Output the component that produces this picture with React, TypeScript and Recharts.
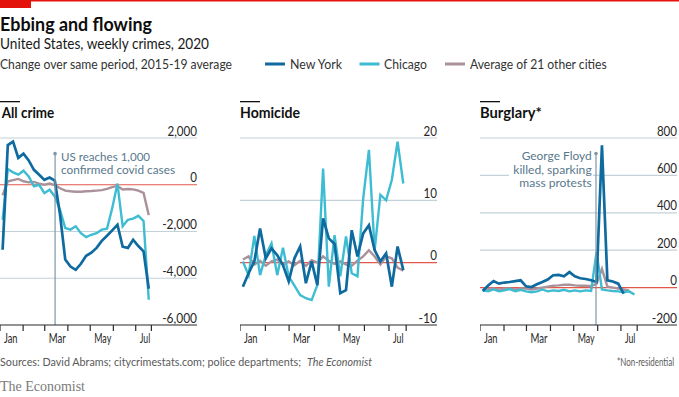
import React from 'react';
import { LineChart, Line, XAxis, YAxis, ReferenceLine } from 'recharts';

// ---------- data ----------
const weekNumbers = [1, 2, 3, 4, 5, 6, 7, 8, 9, 10, 11, 12, 13, 14, 15, 16, 17, 18, 19, 20, 21, 22, 23, 24, 25, 26, 27, 28, 29];
const monthStartDays = [0, 31, 60, 91, 121, 152, 182, 203];
const monthLabels = ['Jan', '', 'Mar', '', 'May', '', 'Jul', ''];

const allCrimeNY = [-2780, 1700, 1850, 1150, 1330, 1040, 640, 430, 210, 310, 180, -1280, -3200, -3500, -3640, -3380, -3040, -2910, -2700, -2400, -2180, -1950, -1710, -2650, -2700, -2350, -2620, -2850, -4450];
const allCrimeChicago = [-1500, 670, 530, 430, 600, 360, -70, 0, -360, -210, -500, -1070, -1850, -1920, -1780, -2070, -2240, -2140, -2070, -1920, -1880, -1000, 50, -1780, -1500, -1450, -1330, -1550, -4920];
const allCrimeOthers = [-450, 150, 200, 250, 150, 100, 120, 50, 0, 50, -20, -150, -250, -280, -300, -300, -280, -270, -250, -230, -180, -100, -50, -200, -180, -200, -250, -350, -1300];

const homicideNY = [-3.85, -1.7, 0.2, 5.5, 0.7, 2.3, 1.2, -0.4, -3.0, 0.7, 2.6, -3.3, 0.2, -3.6, 7.1, 3.9, 3.0, -4.9, -4.4, 5.2, 1.0, 4.7, 6.0, 2.0, 0.2, 1.5, -3.85, 2.6, -1.2];
const homicideChicago = [0.2, -2.0, 4.3, -2.0, 1.2, 3.1, -2.0, 2.4, -2.2, -3.7, -5.2, -5.7, -6.0, -3.6, 15.1, -3.85, 4.4, -2.2, 4.2, -1.7, -2.2, 10.3, 18.1, 2.0, 10.9, 10.0, 13.3, 19.4, 12.7];
const homicideOthers = [0.5, 1.0, -0.3, 0.3, -0.5, 0.2, 0.5, -0.3, 0.2, -0.4, 0.3, -0.5, 0.4, 0, 1.0, 0.3, -0.2, 0.2, -0.3, -0.5, 0.3, 1.0, 2.0, 1.0, -0.3, 1.0, 0.7, -0.8, -1.3];

const burglaryNY = [-18, 11, 35, 21, 27, 30, 35, 39, 7, 3, 18, 30, 43, 66, 68, 60, 83, 60, 50, 46, 39, 30, 761, 39, 33, 21, -32, null, null];
const burglaryChicago = [-15, -20, -10, -20, -15, -8, -20, -12, -20, -25, -20, -10, -20, -15, -18, -12, -20, -15, -20, -15, -18, 190, -10, -15, -18, -20, -25, -20, -37];
const burglaryOthers = [-10, -8, -5, -10, -5, -5, -10, -5, -5, -10, -5, 0, 5, 10, 12, 15, 15, 12, 10, 10, 8, 20, 100, 5, 0, -5, -10, -15, null];

const allCrimeTicks = [-6000, -4000, -2000, 0, 2000];
const homicideTicks = [-10, 0, 10, 20];
const burglaryTicks = [-200, 0, 200, 400, 600, 800];

const covidWeek = 10.55;
const floydWeek = 21.4;

// ---------- style ----------
const FONT = "Lato, 'Noto Sans', sans-serif";
const NY = '#0f6b9f';
const CHI = '#3ebcd2';
const AVG = '#ab919a';
const GRID = '#c3d1d9';
const RED = '#e3574a';
const AXIS = '#2b2b2b';
const ANN_TEXT = '#58788c';
const ANN_LINE = '#7f97a6';
const TXT = '#262626';

const PLOT_W = 197;
const PLOT_H = 187;
const TOP = 20;
const XH = 30;
const RIGHT_PAD = 4;

const monthTicks = monthStartDays.map((d) => d / 7);

function buildRows(ny: (number | null)[], chi: (number | null)[], avg: (number | null)[]) {
  return weekNumbers.map((wk, i) => ({ w: wk - 0.5, ny: ny[i], chi: chi[i], avg: avg[i] }));
}

const fmtNum = (v: number) => (v < 0 ? '-' : '') + Math.abs(v).toLocaleString('en-US');

function tickLen(s: string) {
  let w = 0;
  for (const c of s) {
    if (c === ',') w += 2.8;
    else if (c === '-') w += 5.2;
    else w += 6.7;
  }
  return w;
}

const GridLabel = (props: any) => {
  const { viewBox, value } = props;
  const s = fmtNum(value);
  return (
    <text x={viewBox.x + viewBox.width} y={viewBox.y - 2.5} textAnchor="end" fontFamily={FONT} fontSize={13.5} fill={TXT}
      textLength={tickLen(s)} lengthAdjust="spacingAndGlyphs">{s}</text>
  );
};

const xLabelLen: Record<string, number> = { Jan: 13.5, Mar: 17, May: 17, Jul: 10.5 };

const XTick = (props: any) => {
  const { x, y, payload } = props;
  const idx = monthTicks.findIndex((t) => Math.abs(t - payload.value) < 1e-6);
  const label = monthLabels[idx];
  if (!label) return null;
  return (
    <text x={x + 4} y={y + 10} textAnchor="start" fontFamily={FONT} fontSize={13} fill={TXT}
      textLength={xLabelLen[label]} lengthAdjust="spacingAndGlyphs">{label}</text>
  );
};

const CovidLabel = (props: any) => {
  const { x, y } = props.viewBox;
  return (
    <g>
      <circle cx={x} cy={y} r={1.8} fill={ANN_LINE} />
      <text x={x + 6} y={y + 7.3} fontFamily={FONT} fontSize={12.2} fill={ANN_TEXT} textLength={89} lengthAdjust="spacingAndGlyphs">US reaches 1,000</text>
      <text x={x + 6} y={y + 20.8} fontFamily={FONT} fontSize={12.2} fill={ANN_TEXT} textLength={114} lengthAdjust="spacingAndGlyphs">confirmed covid cases</text>
    </g>
  );
};

const FloydLabel = (props: any) => {
  const { x, y } = props.viewBox;
  return (
    <g>
      <rect x={x - 87} y={y + 10} width={84} height={13} fill="#ffffff" />
      <circle cx={x} cy={y} r={1.8} fill={ANN_LINE} />
      <text x={x - 4.3} y={y + 6.5} textAnchor="end" fontFamily={FONT} fontSize={12.2} fill={ANN_TEXT} textLength={70} lengthAdjust="spacingAndGlyphs">George Floyd</text>
      <text x={x - 4.3} y={y + 20} textAnchor="end" fontFamily={FONT} fontSize={12.2} fill={ANN_TEXT} textLength={78.4} lengthAdjust="spacingAndGlyphs">killed, sparking</text>
      <text x={x - 4.3} y={y + 33.5} textAnchor="end" fontFamily={FONT} fontSize={12.2} fill={ANN_TEXT} textLength={72.4} lengthAdjust="spacingAndGlyphs">mass protests</text>
    </g>
  );
};

type PanelProps = {
  left: number;
  rows: any[];
  xMax: number;
  yDomain: [number, number];
  yTicks: number[];
  annotation?: React.ReactNode;
};

function Panel({ left, rows, xMax, yDomain, yTicks, annotation }: PanelProps) {
  return (
    <div style={{ position: 'absolute', left, top: 138 - TOP }}>
      <LineChart width={PLOT_W + RIGHT_PAD} height={TOP + PLOT_H + XH} data={rows} margin={{ top: TOP, right: RIGHT_PAD, bottom: 0, left: 0 }}>
        <XAxis type="number" dataKey="w" domain={[0, xMax]} ticks={monthTicks} interval={0}
          tick={<XTick />} tickSize={6} tickMargin={2} height={XH}
          axisLine={{ stroke: AXIS, strokeWidth: 1.2 }} tickLine={{ stroke: AXIS, strokeWidth: 1.2 }} allowDataOverflow />
        <YAxis hide width={0} domain={yDomain} ticks={yTicks} allowDataOverflow />
        {yTicks.map((t, i) => (
          <ReferenceLine key={'g' + t} y={t}
            stroke={i === 0 ? 'none' : t === 0 ? RED : GRID} strokeWidth={1.2}
            label={<GridLabel value={t} />} />
        ))}
        <Line type="linear" dataKey="avg" stroke={AVG} strokeWidth={2.4} dot={false} isAnimationActive={false} connectNulls={false} />
        <Line type="linear" dataKey="chi" stroke={CHI} strokeWidth={2.4} dot={false} isAnimationActive={false} connectNulls={false} />
        <Line type="linear" dataKey="ny" stroke={NY} strokeWidth={2.7} dot={false} isAnimationActive={false} connectNulls={false} />
        {annotation}
      </LineChart>
    </div>
  );
}

export default function App() {
  const allRows = buildRows(allCrimeNY, allCrimeChicago, allCrimeOthers);
  const homRows = buildRows(homicideNY, homicideChicago, homicideOthers);
  const burRows = buildRows(burglaryNY, burglaryChicago, burglaryOthers);

  return (
    <div style={{ position: 'relative', width: 679, height: 397, background: '#fff', overflow: 'hidden' }}>
      <style>{'body{margin:0}'}</style>
      <svg width={679} height={397} style={{ position: 'absolute', left: 0, top: 0 }}>
        <rect x={0} y={0} width={679} height={1.5} fill="#e3120b" />
        <rect x={0} y={0} width={31} height={8} fill="#e3120b" />
        <text x={0} y={31} fontFamily={FONT} fontWeight={700} fontSize={18} fill="#0d0d0d" textLength={152} lengthAdjust="spacingAndGlyphs">Ebbing and flowing</text>
        <text x={0} y={49.3} fontFamily={FONT} fontSize={15} fill="#1a1a1a" textLength={209} lengthAdjust="spacingAndGlyphs">United States, weekly crimes, 2020</text>
        <text x={0} y={69.3} fontFamily={FONT} fontSize={14} fill="#333" textLength={232} lengthAdjust="spacingAndGlyphs">Change over same period, 2015-19 average</text>

        <rect x={265} y={62.5} width={20} height={3} fill={NY} />
        <text x={290} y={69} fontFamily={FONT} fontSize={14} fill="#333" textLength={52} lengthAdjust="spacingAndGlyphs">New York</text>
        <rect x={359.5} y={62.5} width={20} height={3} fill={CHI} />
        <text x={384} y={69} fontFamily={FONT} fontSize={14} fill="#333" textLength={43} lengthAdjust="spacingAndGlyphs">Chicago</text>
        <rect x={445} y={62.5} width={20} height={3} fill={AVG} />
        <text x={470} y={69} fontFamily={FONT} fontSize={14} fill="#333" textLength={136.7} lengthAdjust="spacingAndGlyphs">Average of 21 other cities</text>

        <rect x={0} y={101} width={20} height={1.3} fill="#111" />
        <text x={1.7} y={118.3} fontFamily={FONT} fontWeight={700} fontSize={15} fill="#111" textLength={52.6} lengthAdjust="spacingAndGlyphs">All crime</text>
        <rect x={240} y={101} width={20} height={1.3} fill="#111" />
        <text x={240} y={118.3} fontFamily={FONT} fontWeight={700} fontSize={15} fill="#111" textLength={60} lengthAdjust="spacingAndGlyphs">Homicide</text>
        <rect x={480} y={101} width={20} height={1.3} fill="#111" />
        <text x={480} y={118.3} fontFamily={FONT} fontWeight={700} fontSize={15} fill="#111" textLength={61.7} lengthAdjust="spacingAndGlyphs">Burglary*</text>

        <text x={0} y={366} fontFamily={FONT} fontSize={11.2} fill="#5a5a5a" textLength={301} lengthAdjust="spacingAndGlyphs">Sources: David Abrams; citycrimestats.com; police departments;</text>
        <text x={307} y={366} fontFamily={FONT} fontStyle="italic" fontSize={11.2} fill="#5a5a5a" textLength={65} lengthAdjust="spacingAndGlyphs">The Economist</text>
        <text x={674} y={366} textAnchor="end" fontFamily={FONT} fontSize={11.5} fill="#5a5a5a" textLength={57} lengthAdjust="spacingAndGlyphs">*Non-residential</text>
        <text x={0} y={391} fontFamily="'Liberation Serif', 'DejaVu Serif', serif" fontSize={14} fill="#7a7a7a" textLength={85} lengthAdjust="spacingAndGlyphs">The Economist</text>
      </svg>

      <Panel left={0} rows={allRows} xMax={PLOT_W / 5.22} yDomain={[-6000, 2000]} yTicks={allCrimeTicks}
        annotation={
          <ReferenceLine segment={[{ x: covidWeek, y: 1330 }, { x: covidWeek, y: -6000 }]} stroke={ANN_LINE} strokeWidth={1.2} label={<CovidLabel />} />
        } />
      <Panel left={240} rows={homRows} xMax={PLOT_W / 5.73} yDomain={[-10, 20]} yTicks={homicideTicks} />
      <Panel left={480} rows={burRows} xMax={PLOT_W / 5.42} yDomain={[-200, 800]} yTicks={burglaryTicks}
        annotation={
          <ReferenceLine segment={[{ x: floydWeek, y: 717 }, { x: floydWeek, y: -200 }]} stroke={ANN_LINE} strokeWidth={1.2} label={<FloydLabel />} />
        } />
    </div>
  );
}
